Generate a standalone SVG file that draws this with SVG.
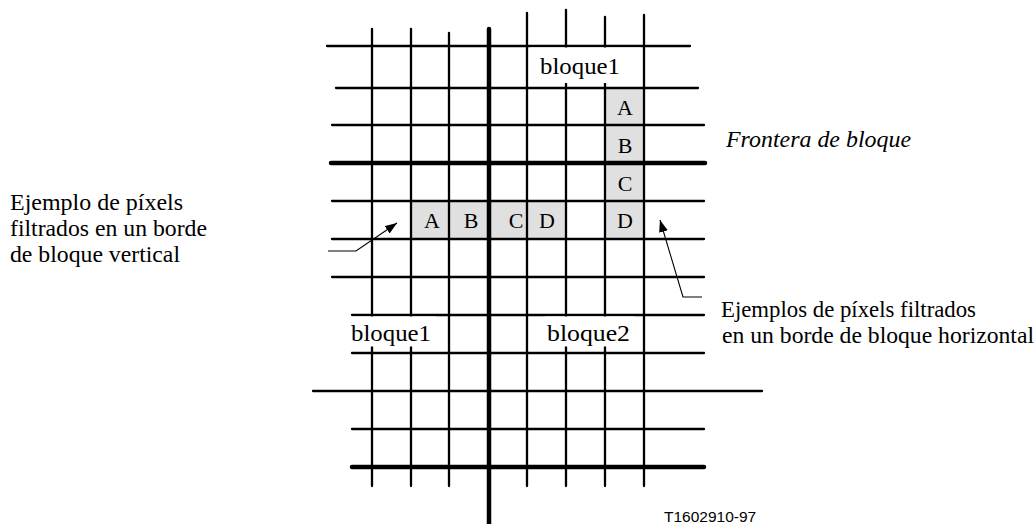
<svg xmlns="http://www.w3.org/2000/svg" width="1036" height="524" viewBox="0 0 1036 524">
<style>
  .g { stroke: #000; stroke-width: 2.3; fill: none; stroke-linecap: round; }
  .gt { stroke: #000; stroke-width: 4.5; fill: none; stroke-linecap: round; }
  .cell { fill: #e0e0e0; }
  .mask { fill: #fff; }
  .t { font-family: "Liberation Serif", "Times New Roman", serif; font-size: 23px; fill: #000; }
  .l { font-family: "Liberation Serif", "Times New Roman", serif; font-size: 22px; fill: #000; text-anchor: middle; }
  .it { font-style: italic; }
  .code { font-family: "Liberation Sans", Arial, sans-serif; font-size: 15.5px; fill: #000; }
  .conn { stroke: #000; stroke-width: 1.1; fill: none; }
</style>
<defs>
  <marker id="arr" markerUnits="userSpaceOnUse" markerWidth="13" markerHeight="10" refX="12" refY="4.5" orient="auto">
    <path d="M0,0 L12,4.5 L0,9 z" fill="#000"/>
  </marker>
</defs>
<rect width="1036" height="524" fill="#fff"/>

<g id="cells">
  <rect class="cell" x="605" y="88" width="39" height="151"/>
  <rect class="cell" x="411" y="201" width="155" height="38"/>
</g>

<g id="grid">
  <line class="g" x1="327" y1="46" x2="690" y2="46"/>
  <line class="g" x1="336" y1="88" x2="698" y2="88"/>
  <line class="g" x1="332" y1="125" x2="704" y2="125"/>
  <line class="gt" x1="331" y1="163" x2="705" y2="163"/>
  <line class="g" x1="332" y1="201" x2="704" y2="201"/>
  <line class="g" x1="332" y1="239" x2="704" y2="239"/>
  <line class="g" x1="332" y1="277" x2="704" y2="277"/>
  <line class="g" x1="352" y1="315" x2="704" y2="315"/>
  <line class="g" x1="352" y1="353" x2="704" y2="353"/>
  <line class="g" x1="313" y1="391" x2="762" y2="391"/>
  <line class="g" x1="352" y1="429" x2="704" y2="429"/>
  <line class="gt" x1="352" y1="467" x2="704" y2="467"/>

  <line class="g" x1="372" y1="29" x2="372" y2="486"/>
  <line class="g" x1="411" y1="29" x2="411" y2="486"/>
  <line class="g" x1="449" y1="33" x2="449" y2="486"/>
  <line class="gt" x1="489" y1="29" x2="489" y2="530"/>
  <line class="g" x1="527" y1="13" x2="527" y2="486"/>
  <line class="g" x1="566" y1="10" x2="566" y2="486"/>
  <line class="g" x1="605" y1="17" x2="605" y2="486"/>
  <line class="g" x1="644" y1="15" x2="644" y2="486"/>
</g>

<g id="block-label-top">
  <rect class="mask" x="530" y="47.5" width="111" height="35.5"/>
  <text class="t" x="540" y="74" textLength="80" lengthAdjust="spacingAndGlyphs">bloque1</text>
</g>
<g id="block-label-bl">
  <rect class="mask" x="351" y="316.5" width="85" height="30"/>
  <text class="t" x="351" y="341" textLength="80" lengthAdjust="spacingAndGlyphs">bloque1</text>
</g>
<g id="block-label-br">
  <rect class="mask" x="545" y="316.5" width="89" height="30"/>
  <text class="t" x="547" y="341" textLength="83" lengthAdjust="spacingAndGlyphs">bloque2</text>
</g>

<g id="pixels-horizontal-edge">
  <text class="l" x="625" y="115">A</text>
  <text class="l" x="625" y="153">B</text>
  <text class="l" x="625" y="191">C</text>
  <text class="l" x="625" y="228">D</text>
</g>
<g id="pixels-vertical-edge">
  <text class="l" x="432" y="228">A</text>
  <text class="l" x="471" y="228">B</text>
  <text class="l" x="516" y="228">C</text>
  <text class="l" x="547" y="228">D</text>
</g>

<g id="label-vertical">
  <text class="t" x="10" y="210" textLength="173" lengthAdjust="spacingAndGlyphs">Ejemplo de píxels</text>
  <text class="t" x="10" y="236" textLength="197" lengthAdjust="spacingAndGlyphs">filtrados en un borde</text>
  <text class="t" x="10" y="262" textLength="170" lengthAdjust="spacingAndGlyphs">de bloque vertical</text>
</g>
<g id="label-boundary">
  <text class="t it" x="726" y="147" textLength="185" lengthAdjust="spacingAndGlyphs">Frontera de bloque</text>
</g>
<g id="label-horizontal">
  <text class="t" x="721" y="317" textLength="255" lengthAdjust="spacingAndGlyphs">Ejemplos de píxels filtrados</text>
  <text class="t" x="722" y="343" textLength="312" lengthAdjust="spacingAndGlyphs">en un borde de bloque horizontal</text>
</g>
<g id="code">
  <text class="code" x="664" y="522">T1602910-97</text>
</g>

<g id="connectors">
  <polyline class="conn" points="328,251 356,251 397,223" marker-end="url(#arr)"/>
  <polyline class="conn" points="702,297 683,297 660,220" marker-end="url(#arr)"/>
</g>
</svg>
